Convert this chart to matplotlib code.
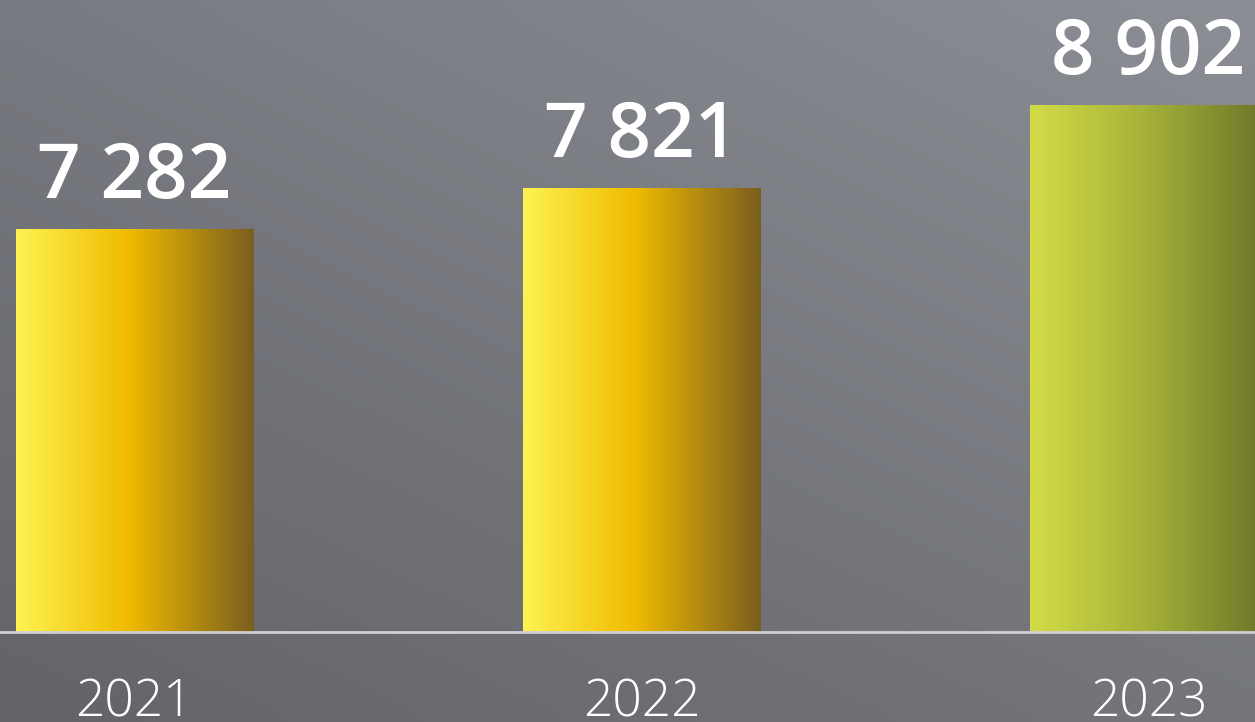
import numpy as np
import matplotlib
matplotlib.use('Agg')
import matplotlib.pyplot as plt
from matplotlib.colors import LinearSegmentedColormap
from matplotlib.transforms import blended_transform_factory

# Data
years = ['2021', '2022', '2023']
values = [7282, 7821, 8902]
value_labels = ['7 282', '7 821', '8 902']

# Gradient colours for each bar (left -> right)
yellow = ['#fdf352', '#f0bb00', '#7a5e1f']
green = ['#d3dc47', '#a7b33a', '#6b7428']
bar_colors = [yellow, yellow, green]

fig = plt.figure(figsize=(12.55, 7.22), dpi=100)

# Background gradient
bg = fig.add_axes([0, 0, 1, 1])
bg.axis('off')
ny, nx = 50, 50
yy, xx = np.mgrid[0:1:ny * 1j, 0:1:nx * 1j]
tl = np.array([119, 122, 128]) / 255
tr = np.array([139, 142, 148]) / 255
bl = np.array([99, 100, 106]) / 255
br = np.array([116, 118, 124]) / 255
img = (tl * ((1 - xx) * (1 - yy))[..., None] + tr * (xx * (1 - yy))[..., None]
       + bl * ((1 - xx) * yy)[..., None] + br * (xx * yy)[..., None])
bg.imshow(img, aspect='auto', extent=[0, 1, 0, 1], interpolation='bicubic')

# Main axes: bottom edge is the baseline
ax = fig.add_axes([0, 90 / 722, 1, 632 / 722])
ax.patch.set_alpha(0)
ax.axis('off')

x = np.arange(len(years))
bar_width = 0.4675
bars = ax.bar(x, values, width=bar_width, color='none', zorder=2)

# Fill each bar with a horizontal gradient
for bar, cols in zip(bars, bar_colors):
    cmap = LinearSegmentedColormap.from_list('g', [(0, cols[0]), (0.47, cols[1]), (1, cols[2])])
    x0 = bar.get_x()
    w = bar.get_width()
    h = bar.get_height()
    grad = np.linspace(0, 1, 256).reshape(1, -1)
    im = ax.imshow(grad, cmap=cmap, aspect='auto', extent=[x0, x0 + w, 0, h], zorder=2)
    im.set_clip_path(bar)
    im.set_clip_box(ax.bbox)

ax.set_xlim(-0.265, 2.21)
ax.set_ylim(2026, 10287)

# Baseline
ax.axhline(2026, color='#cfcfd2', linewidth=2, zorder=3, clip_on=False)

# Value labels
for bar, lab in zip(bars, value_labels):
    ax.annotate(lab, (bar.get_x() + bar.get_width() / 2, bar.get_height()),
                xytext=(0, 23), textcoords='offset points', ha='center', va='baseline',
                fontsize=55, fontweight='semibold', family='Open Sans', color='white')

# Year labels
trans = blended_transform_factory(ax.transData, fig.transFigure)
for xi, yr in zip(x, years):
    ax.text(xi, 0.008, yr, transform=trans, ha='center', va='baseline',
            fontsize=37, fontweight='light', family='Open Sans', color='white',
            clip_on=False)

plt.savefig('out.png', dpi=100)
